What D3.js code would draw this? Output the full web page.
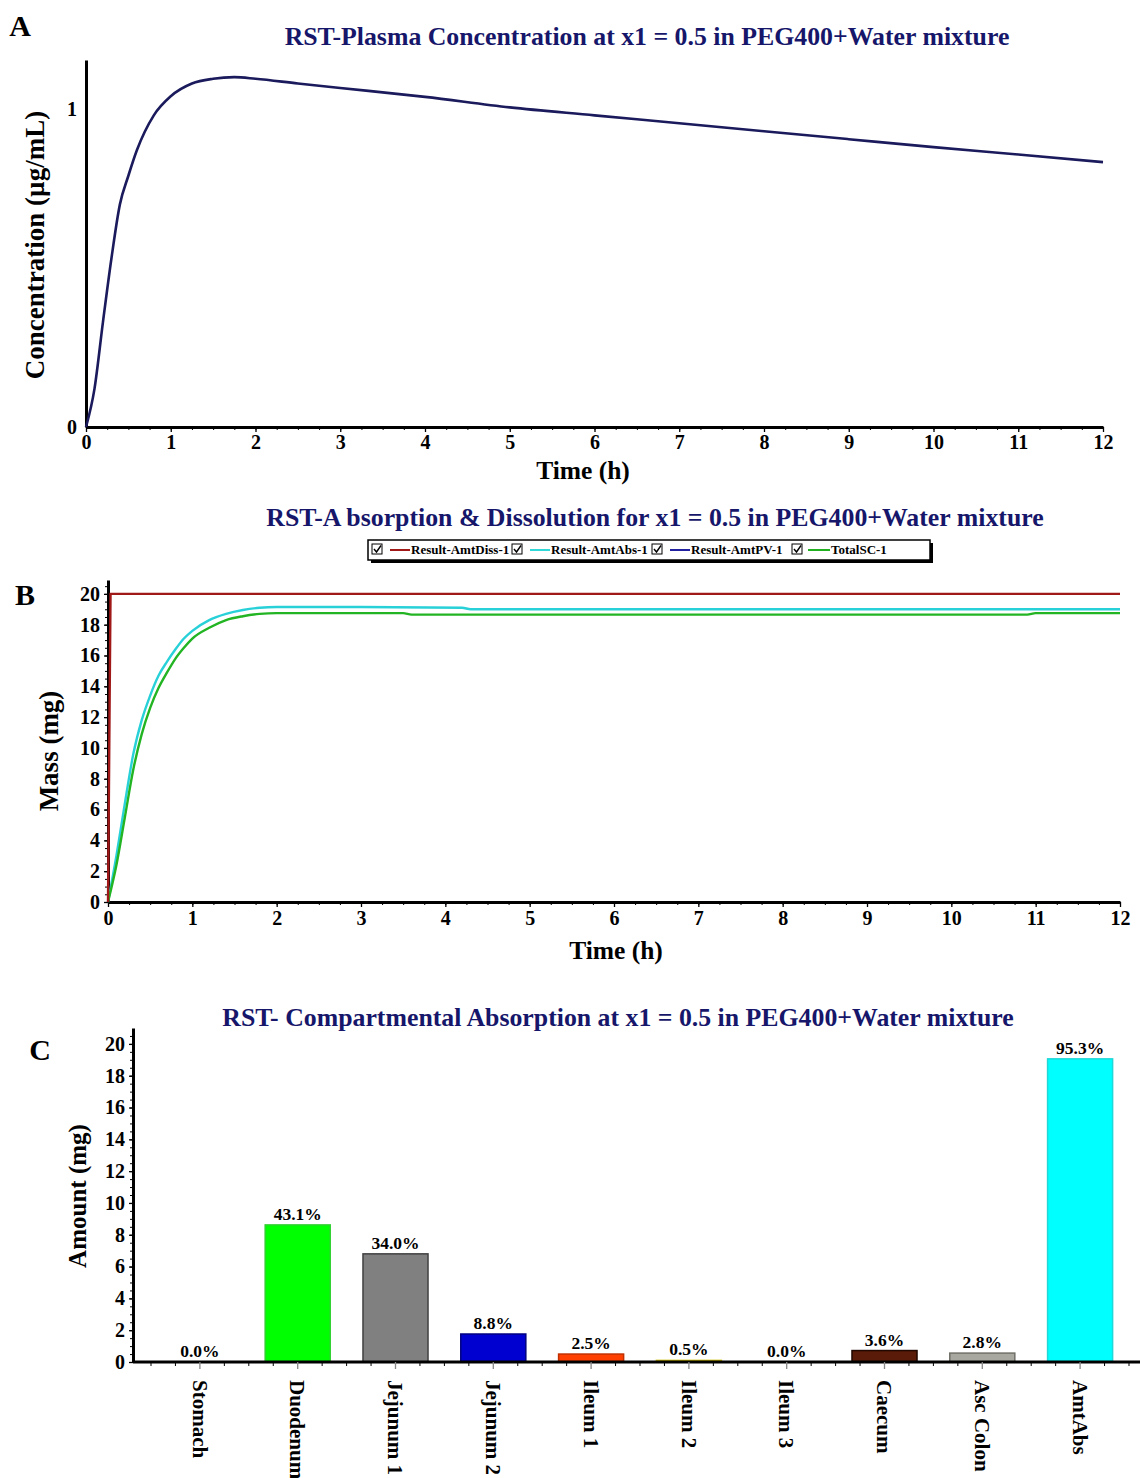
<!DOCTYPE html>
<html><head><meta charset="utf-8">
<script src="https://cdn.jsdelivr.net/npm/d3@7"></script>
<style>body{margin:0;background:#fff}svg{display:block}</style>
</head><body>
<script>
// ---------- DATA ----------
const plasmaTime = [0,0.1,0.2,0.3,0.4,0.5,0.6,0.8,1.0,1.25,1.5,1.75,2,2.5,3,4,5,6,7,8,9,10,11,12];
const plasmaConc = [0,0.12,0.33,0.53,0.70,0.79,0.87,0.98,1.04,1.08,1.095,1.10,1.095,1.08,1.066,1.038,1.005,0.98,0.955,0.93,0.905,0.88,0.857,0.833];

const dissTime = [0,0.01,0.02,0.03,12];
const dissMass = [0,6.5,13.5,20,20];
const absTime = [0,0.1,0.2,0.3,0.4,0.5,0.6,0.7,0.8,0.9,1.0,1.2,1.4,1.6,1.8,2.0,3.0,4.2,4.3,12];
const absMass = [0,3.0,6.4,9.6,11.8,13.4,14.7,15.6,16.4,17.1,17.6,18.3,18.7,18.95,19.1,19.15,19.15,19.1,19.0,19.0];
const scTime = [0,0.1,0.2,0.3,0.4,0.5,0.6,0.7,0.8,0.9,1.0,1.2,1.4,1.6,1.8,2.0,3.5,3.6,10.9,11.0,12];
const scMass = [0,2.4,5.5,8.6,10.9,12.6,13.9,14.9,15.8,16.5,17.1,17.8,18.3,18.55,18.7,18.75,18.75,18.65,18.65,18.75,18.75];
const legendLabels = ["Result-AmtDiss-1","Result-AmtAbs-1","Result-AmtPV-1","TotalSC-1"];

const compartments = ["Stomach","Duodenum","Jejunum 1","Jejunum 2","Ileum 1","Ileum 2","Ileum 3","Caecum","Asc Colon","AmtAbs"];
const amounts = [0.01,8.62,6.8,1.76,0.5,0.1,0.0,0.72,0.56,19.06];
const pctLabels = ["0.0%","43.1%","34.0%","8.8%","2.5%","0.5%","0.0%","3.6%","2.8%","95.3%"];

const timeTicks = [0,1,2,3,4,5,6,7,8,9,10,11,12];
const massTicks = [0,2,4,6,8,10,12,14,16,18,20];
const concTicks = [0,1];

// ---------- STYLE ----------
const SERIF = "'Liberation Serif','Times New Roman',serif";
const TITLE = "#16166a";
const barFill = ["#f5f0dc","#00ff00","#808080","#0000d0","#ff4000","#ffff00","#f5f5f5","#5a1c08","#a8a8a0","#00ffff"];
const barStroke = ["#c8b890","#30d030","#404040","#000080","#c03000","#d0c000","#cccccc","#200800","#707068","#20d8d8"];

const svg = d3.select("body").append("svg").attr("width",1140).attr("height",1478)
  .style("font-family",SERIF).style("font-weight","bold");

function styleAxis(g, fs){
  g.select(".domain").attr("stroke","#000").attr("stroke-width",3);
  g.selectAll(".tick line").attr("stroke","#000").attr("stroke-width",1.3);
  g.selectAll(".tick text").attr("font-size",fs).attr("font-family",SERIF).attr("font-weight","bold").attr("fill","#000");
}
function minor(g){ g.select(".domain").remove(); g.selectAll(".tick text").remove(); g.selectAll(".tick line").attr("stroke","#000").attr("stroke-width",1); }
function txt(x,y,s,size,opts={}){
  const t = svg.append("text").attr("x",x).attr("y",y).text(s).attr("font-size",size)
    .attr("text-anchor",opts.anchor||"middle").attr("fill",opts.fill||"#000");
  if(opts.rotate) t.attr("transform",`rotate(${opts.rotate},${x},${y})`);
  return t;
}

// ================= PANEL A =================
txt(20,36,"A",30,{anchor:"middle"});
txt(647,45,"RST-Plasma Concentration at x1 = 0.5 in PEG400+Water mixture",25.8,{fill:TITLE});
const xA = d3.scaleLinear().domain([0,12]).range([86,1103]);
const yA = d3.scaleLinear().domain([0,1.154]).range([427,60]);
svg.append("g").attr("transform","translate(0,427)")
  .call(d3.axisBottom(xA).tickValues(d3.range(0,12.01,0.25)).tickSize(3).tickFormat("")).call(minor);
svg.append("g").attr("transform","translate(0,427)")
  .call(d3.axisBottom(xA).tickValues(timeTicks).tickSize(5).tickSizeOuter(0).tickPadding(3).tickFormat(d3.format("d"))).call(g=>styleAxis(g,20));
svg.append("g").attr("transform",`translate(${xA(0)},0)`)
  .call(d3.axisLeft(yA).tickValues(concTicks).tickSize(0).tickSizeOuter(0).tickPadding(9).tickFormat(d3.format("d"))).call(g=>styleAxis(g,20));
svg.append("path").datum(plasmaTime.map((t,i)=>[t,plasmaConc[i]]))
  .attr("fill","none").attr("stroke","#1a1a5c").attr("stroke-width",2.6)
  .attr("d",d3.line().x(d=>xA(d[0])).y(d=>yA(d[1])).curve(d3.curveMonotoneX));
txt(583,479,"Time (h)",25.5);
txt(44,245,"Concentration (µg/mL)",27,{rotate:-90});

// ================= PANEL B =================
txt(25,605,"B",30);
txt(655,526,"RST-A bsorption & Dissolution for x1 = 0.5 in PEG400+Water mixture",25.8,{fill:TITLE});
// legend
const lg = svg.append("g");
lg.append("rect").attr("x",371).attr("y",543).attr("width",562).attr("height",20).attr("fill","#000");
lg.append("rect").attr("x",368).attr("y",540).attr("width",562).attr("height",20).attr("fill","#fff").attr("stroke","#000").attr("stroke-width",1.5);
const legColors = ["#a01818","#30d8d8","#2020a0","#20b020"];
const legX = [372,512,652,792];
const legW = [20,20,20,22];
legendLabels.forEach((l,i)=>{
  const x0 = legX[i];
  lg.append("rect").attr("x",x0).attr("y",544).attr("width",10).attr("height",10).attr("fill","#fff").attr("stroke","#000").attr("stroke-width",1);
  lg.append("path").attr("d",`M${x0+2},${549} L${x0+4.5},${552} L${x0+9},${545.5}`).attr("fill","none").attr("stroke","#000").attr("stroke-width",1.4);
  const lx = x0 + (i===3?16:18);
  lg.append("line").attr("x1",lx).attr("x2",lx+legW[i]).attr("y1",550).attr("y2",550).attr("stroke",legColors[i]).attr("stroke-width",2);
  lg.append("text").attr("x",lx+legW[i]+1).attr("y",554).text(l).attr("font-size",13).attr("fill","#000");
});
const xB = d3.scaleLinear().domain([0,12]).range([108,1120]);
const yB = d3.scaleLinear().domain([0,20.9]).range([902,580]);
svg.append("g").attr("transform","translate(0,902)")
  .call(d3.axisBottom(xB).tickValues(d3.range(0,12.01,0.25)).tickSize(3).tickFormat("")).call(minor);
svg.append("g").attr("transform","translate(108,0)")
  .call(d3.axisLeft(yB).tickValues(d3.range(0,20.9,0.5)).tickSize(3).tickFormat("")).call(minor);
svg.append("g").attr("transform","translate(0,902)")
  .call(d3.axisBottom(xB).tickValues(timeTicks).tickSize(5).tickSizeOuter(0).tickPadding(4)).call(g=>styleAxis(g,20));
svg.append("g").attr("transform","translate(108,0)")
  .call(d3.axisLeft(yB).tickValues(massTicks).tickSize(4).tickSizeOuter(0).tickPadding(4)).call(g=>styleAxis(g,20));
const lineB = d3.line().x(d=>xB(d[0])).y(d=>yB(d[1]));
const clipB = svg.append("g");
clipB.append("path").datum(absTime.map((t,i)=>[t,absMass[i]])).attr("fill","none").attr("stroke","#28d0d8").attr("stroke-width",2.4)
  .attr("d",lineB.curve(d3.curveMonotoneX));
clipB.append("path").datum(scTime.map((t,i)=>[t,scMass[i]])).attr("fill","none").attr("stroke","#22b422").attr("stroke-width",2.4)
  .attr("d",lineB.curve(d3.curveMonotoneX));
clipB.append("path").datum(dissTime.map((t,i)=>[t,dissMass[i]])).attr("fill","none").attr("stroke","#a01818").attr("stroke-width",2.4)
  .attr("d",lineB.curve(d3.curveLinear));
txt(616,959,"Time (h)",25.5);
txt(58,751,"Mass (mg)",27,{rotate:-90});

// ================= PANEL C =================
txt(40,1060,"C",30);
txt(618,1026,"RST- Compartmental Absorption at x1 = 0.5 in PEG400+Water mixture",25.8,{fill:TITLE});
const xC = d3.scaleBand().domain(compartments).range([151,1129]).paddingInner(0.335).paddingOuter(0.1675);
const yC = d3.scaleLinear().domain([0,21]).range([1362,1028]);
const step = xC.step();
const minorPos = [];
compartments.forEach(c=>{ const cx = xC(c)+xC.bandwidth()/2; [-0.25,0.25,0.5].forEach(f=>minorPos.push(cx+f*step)); });
minorPos.push(xC(compartments[0])+xC.bandwidth()/2-0.5*step);
// bars
svg.append("g").selectAll("rect").data(compartments).join("rect")
  .attr("x",d=>xC(d)).attr("width",xC.bandwidth())
  .attr("y",(d,i)=>yC(amounts[i])).attr("height",(d,i)=>yC(0)-yC(amounts[i]))
  .attr("fill",(d,i)=>barFill[i]).attr("stroke",(d,i)=>barStroke[i]).attr("stroke-width",1.5);
svg.append("g").selectAll("text").data(compartments).join("text")
  .attr("x",d=>xC(d)+xC.bandwidth()/2).attr("y",(d,i)=>yC(amounts[i])-5)
  .attr("text-anchor","middle").attr("font-size",17.5).attr("fill","#000").text((d,i)=>pctLabels[i]);
// axes
svg.append("g").selectAll("line").data(minorPos).join("line")
  .attr("x1",d=>d).attr("x2",d=>d).attr("y1",1362).attr("y2",1366).attr("stroke","#000").attr("stroke-width",1);
const xAxC = svg.append("g").attr("transform","translate(0,1362)")
  .call(d3.axisBottom(xC).tickSize(7).tickSizeOuter(0).tickFormat(""));
xAxC.select(".domain").attr("d","M133,0H1140").attr("stroke","#000").attr("stroke-width",3);
xAxC.selectAll(".tick line").attr("stroke","#888").attr("stroke-width",1.3);
svg.append("g").attr("transform","translate(133,0)")
  .call(d3.axisLeft(yC).tickValues(d3.range(0,21,0.5)).tickSize(3).tickFormat("")).call(minor);
svg.append("g").attr("transform","translate(133,0)")
  .call(d3.axisLeft(yC).tickValues(massTicks).tickSize(4).tickSizeOuter(0).tickPadding(4)).call(g=>styleAxis(g,20));
// category labels
svg.append("g").selectAll("text").data(compartments).join("text")
  .attr("transform",d=>`translate(${xC(d)+xC.bandwidth()/2},1380) rotate(90)`)
  .attr("dy","0.35em").attr("text-anchor","start").attr("font-size",21).attr("fill","#000").text(d=>d);
txt(86,1196,"Amount (mg)",25,{rotate:-90});
</script>
</body></html>
